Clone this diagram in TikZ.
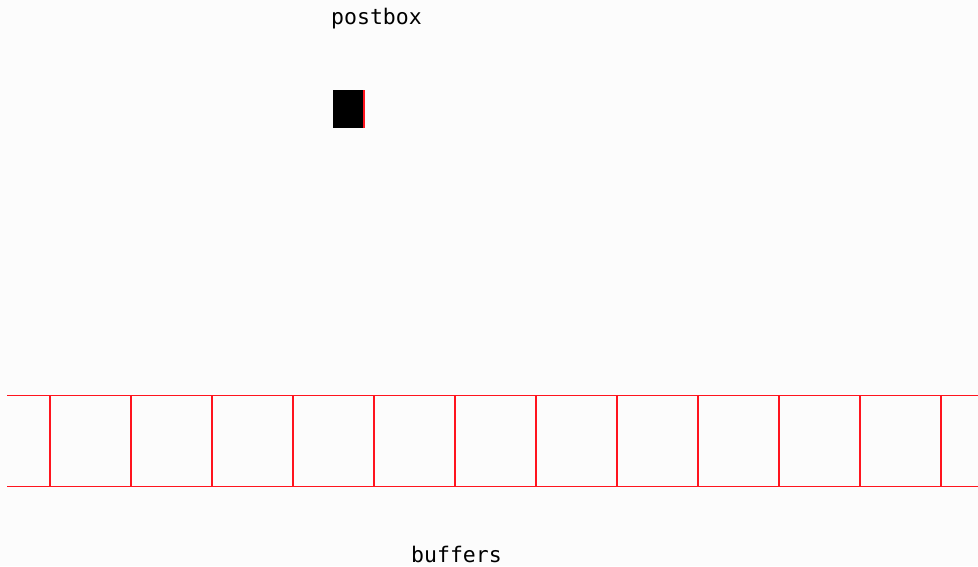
\documentclass[tikz,border=0pt]{standalone}
\usepackage{fontspec}
\setmonofont{DejaVu Sans Mono}
\definecolor{bg}{RGB}{252,252,252}
\definecolor{bufred}{RGB}{255,20,30}
\tikzset{
  lbl/.style={font=\ttfamily\fontsize{21.5}{21.5}\selectfont, inner sep=0pt, anchor=west, text=black},
  bufline/.style={draw=bufred, line width=1.8pt},
  slot/.style={rectangle, fill=black, minimum width=30pt, minimum height=38pt, inner sep=0pt, anchor=north west},
}
\begin{document}
\begin{tikzpicture}[x=1pt,y=-1pt]
  \fill[bg] (0,0) rectangle (978,566);
  \useasboundingbox (0,0) rectangle (978,566);
  \node[lbl] (postbox) at (331,19) {postbox};
  \node[lbl] (buffers) at (411,554) {buffers};
  \node[slot] (box) at (333,90) {};
  \draw[bufred, line width=2pt] ([xshift=1pt]box.north east) -- ([xshift=1pt]box.south east);
  \coordinate (tl) at (7,395.5);
  \coordinate (tr) at (978,395.5);
  \coordinate (bl) at (7,486.5);
  \coordinate (br) at (978,486.5);
  \draw[bufline] (tl) -- (tr);
  \draw[bufline] (bl) -- (br);
  \foreach \i in {0,...,11} {
    \pgfmathsetmacro{\xx}{50+81.0*\i}
    \draw[bufline] (\xx,395.5) -- (\xx,486.5);
  }
\end{tikzpicture}
\end{document}
